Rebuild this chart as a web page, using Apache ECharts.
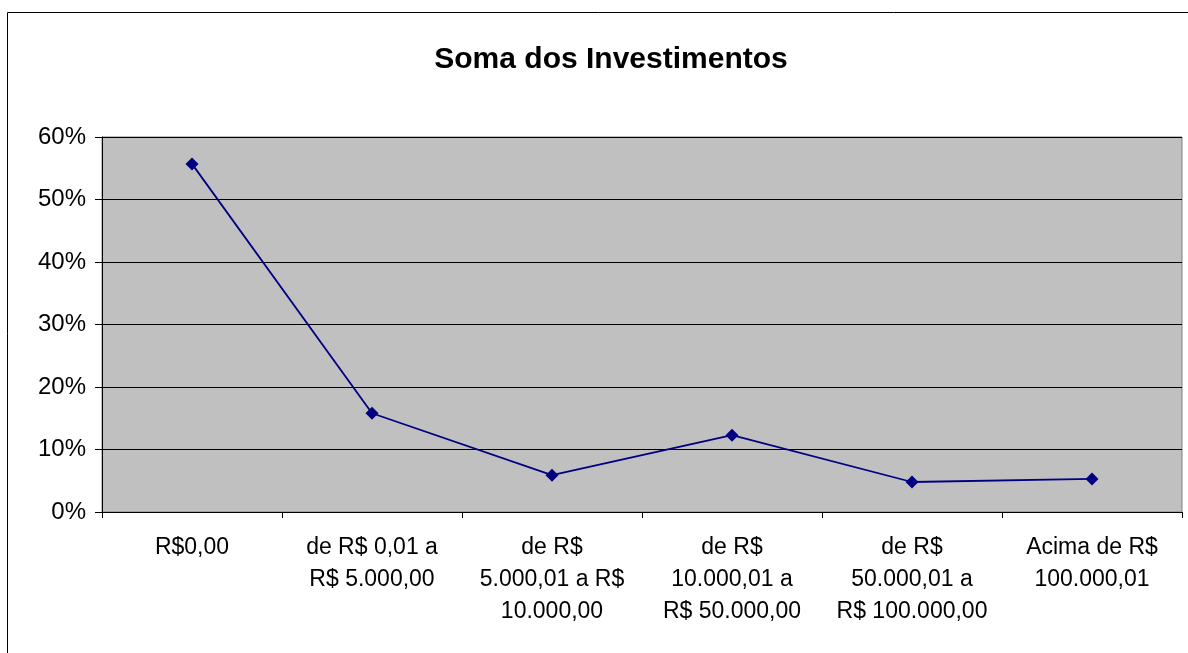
<!DOCTYPE html>
<html>
<head>
<meta charset="utf-8">
<script src="https://cdn.jsdelivr.net/npm/echarts@6/dist/echarts.min.js"></script>
<style>
html,body{margin:0;padding:0;background:#fff;}
#c{width:1188px;height:653px;}
</style>
</head>
<body>
<div id="c"></div>
<script>
const title = "Soma dos Investimentos";
const categories = [
  "R$0,00",
  "de R$ 0,01 a\nR$ 5.000,00",
  "de R$\n5.000,01 a R$\n10.000,00",
  "de R$\n10.000,01 a\nR$ 50.000,00",
  "de R$\n50.000,01 a\nR$ 100.000,00",
  "Acima de R$\n100.000,01"
];
const values = [0.557, 0.158, 0.059, 0.123, 0.048, 0.053];
const yTicks = { min: 0, max: 0.6, interval: 0.1 };

const chart = echarts.init(document.getElementById('c'), null, { renderer: 'canvas' });
const font = '"Liberation Sans", Arial, sans-serif';
chart.setOption({
  animation: false,
  backgroundColor: '#fff',
  title: {
    text: title,
    left: 606,
    textAlign: 'center',
    top: 40,
    textStyle: { fontFamily: font, fontWeight: 'bold', fontSize: 30, color: '#000' }
  },
  graphic: [{
    type: 'rect',
    shape: { x: 7.5, y: 12.5, width: 1300, height: 800 },
    style: { fill: 'none', stroke: '#000', lineWidth: 1 },
    silent: true
  }],
  grid: {
    left: 102, right: 6, top: 137, bottom: 141,
    show: true, backgroundColor: '#C0C0C0', borderColor: '#808080', borderWidth: 1
  },
  xAxis: {
    type: 'category',
    data: categories,
    boundaryGap: true,
    axisLine: { show: true, lineStyle: { color: '#000', width: 1 } },
    axisTick: { show: true, length: 6, alignWithLabel: false, lineStyle: { color: '#000' } },
    axisLabel: {
      interval: 0, margin: 20, fontFamily: font, fontSize: 23, color: '#000',
      lineHeight: 32, align: 'center', verticalAlign: 'top'
    },
    splitLine: { show: false }
  },
  yAxis: {
    type: 'value',
    min: yTicks.min, max: yTicks.max, interval: yTicks.interval,
    axisLine: { show: true, lineStyle: { color: '#000', width: 1 } },
    axisTick: { show: true, length: 7, lineStyle: { color: '#000' } },
    axisLabel: {
      margin: 16, fontFamily: font, fontSize: 24, color: '#000',
      formatter: v => Math.round(v * 100) + '%'
    },
    splitLine: { show: true, lineStyle: { color: '#000', width: 1 } }
  },
  series: [{
    type: 'line',
    data: values,
    symbol: 'diamond',
    symbolSize: 13,
    lineStyle: { color: '#000080', width: 1.8 },
    itemStyle: { color: '#000080' }
  }]
});
</script>
</body>
</html>
